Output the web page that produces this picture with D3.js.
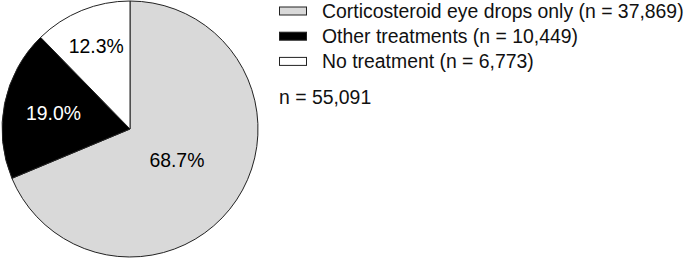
<!DOCTYPE html>
<html>
<head>
<meta charset="utf-8">
<script src="https://cdn.jsdelivr.net/npm/d3@7"></script>
<style>
  body { margin: 0; background: #fff; }
  text { font-family: "Liberation Sans", Arial, sans-serif; }
</style>
</head>
<body>
<script>
// treatment groups, counts and shares as printed on the chart
var categories = ["Corticosteroid eye drops only", "Other treatments", "No treatment"];
var counts = [37869, 10449, 6773];
var percents = [68.7, 19.0, 12.3];
var total = 55091;
var colors = ["#d9d9d9", "#000000", "#ffffff"];
var labelColors = ["#000000", "#ffffff", "#000000"];
// how far out (fraction of radius) each slice label sits
var labelFrac = [0.44, 0.61, 0.70];

var width = 685, height = 259;
var cx = 130, cy = 129, radius = 128;
var fontSize = 19.4;

var svg = d3.select("body").append("svg")
    .attr("width", width)
    .attr("height", height);

var pie = d3.pie().sort(null).value(function(d) { return d; });
var arcs = pie(percents);
var arc = d3.arc().innerRadius(0).outerRadius(radius);

var g = svg.append("g").attr("transform", "translate(" + cx + "," + cy + ")");

g.selectAll("path")
  .data(arcs)
  .enter().append("path")
    .attr("d", arc)
    .attr("fill", function(d, i) { return colors[i]; })
    .attr("stroke", "#222")
    .attr("stroke-width", 1);

var fmt = d3.format(".1f");
g.selectAll("text.pct")
  .data(arcs)
  .enter().append("text")
    .attr("class", "pct")
    .attr("transform", function(d, i) {
      var r = radius * labelFrac[i];
      var a = (d.startAngle + d.endAngle) / 2;
      return "translate(" + (Math.sin(a) * r) + "," + (-Math.cos(a) * r) + ")";
    })
    .attr("text-anchor", "middle")
    .attr("dy", "0.36em")
    .attr("font-size", fontSize)
    .attr("fill", function(d, i) { return labelColors[i]; })
    .text(function(d, i) { return fmt(percents[i]) + "%"; });

// legend
var fmtN = d3.format(",");
var legend = svg.append("g").attr("transform", "translate(279,11)");
var row = legend.selectAll("g")
  .data(categories)
  .enter().append("g")
    .attr("transform", function(d, i) { return "translate(0," + (i * 25.2) + ")"; });

row.append("rect")
    .attr("x", 0.5)
    .attr("y", -4)
    .attr("width", 27)
    .attr("height", 8)
    .attr("fill", function(d, i) { return colors[i]; })
    .attr("stroke", "#222")
    .attr("stroke-width", 1);

row.append("text")
    .attr("x", 43)
    .attr("y", 7)
    .attr("font-size", fontSize)
    .attr("fill", "#111")
    .text(function(d, i) { return d + " (n = " + fmtN(counts[i]) + ")"; });

svg.append("text")
    .attr("x", 279)
    .attr("y", 104)
    .attr("font-size", fontSize)
    .attr("fill", "#111")
    .text("n = " + fmtN(total));
</script>
</body>
</html>
